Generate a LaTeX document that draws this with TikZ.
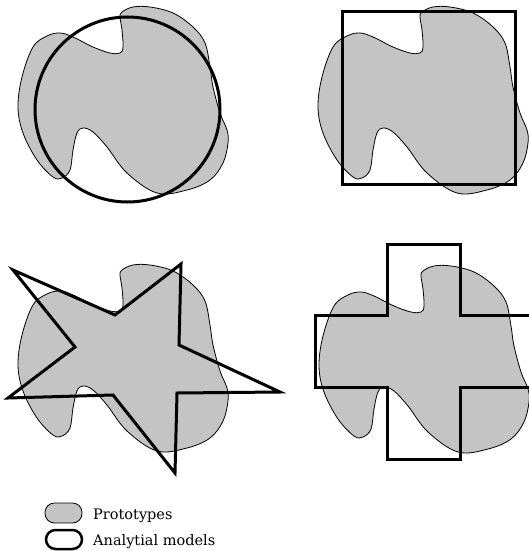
\documentclass[tikz,border=0pt]{standalone}
\usepackage{fontspec}
\setmainfont{DejaVu Serif}
\begin{document}
\begin{tikzpicture}[x=1pt,y=-1pt,
  blobstyle/.style={draw=black,line width=0.8pt,fill=protogray},
  modelstyle/.style={draw=black,line width=3pt,line join=miter},
  labelstyle/.style={anchor=base west,inner sep=0pt,font=\fontsize{14.5}{16}\selectfont}]
\definecolor{protogray}{RGB}{196,196,196}
\useasboundingbox (0,0) rectangle (529,551);
\newcommand\blobpath{plot[smooth cycle,tension=0.6] coordinates {
 (122,12) (133,7) (150,7) (173,13) (193,27) (205,43) (210,67) (213,87)
 (220,113) (227,130) (228,143) (223,163) (210,180) (187,190) (157,193)
 (127,173) (107,147) (93,132) (83,128) (77,133) (73,150) (70,170) (62,178)
 (53,177) (37,160) (23,133) (18,107) (22,77) (33,47) (47,36) (60,33)
 (73,37) (93,47) (110,53) (120,53) (123,47) (122,30) (120,17)}}
% panel 1
\path[blobstyle] \blobpath;
\node[modelstyle,circle,minimum size=185pt,inner sep=0pt] (circ) at (127.5,109.5) {};
% panel 2
\begin{scope}[shift={(300,0)}]
\path[blobstyle] \blobpath;
\end{scope}
\node[modelstyle,rectangle,minimum width=173pt,minimum height=172pt,inner sep=0pt] (sq) at (428.5,98) {};
% panel 3
\begin{scope}[shift={(0,258)}]
\path[blobstyle] \blobpath;
\end{scope}
\coordinate (s1) at (13,270);
\coordinate (s2) at (115,315);
\coordinate (s3) at (181,264);
\coordinate (s4) at (179,345);
\coordinate (s5) at (280,392);
\coordinate (s6) at (177,393);
\coordinate (s7) at (175,473);
\coordinate (s8) at (113,395);
\coordinate (s9) at (8,398);
\coordinate (s10) at (75,347);
\draw[modelstyle] (s1) -- (s2) -- (s3) -- (s4) -- (s5) -- (s6) -- (s7) -- (s8) -- (s9) -- (s10) -- cycle;
% panel 4
\begin{scope}[shift={(301,259)}]
\path[blobstyle] \blobpath;
\end{scope}
\begin{scope}
\clip (0,0) rectangle (529,551);
\coordinate (c1) at (387,244);
\coordinate (c2) at (460,244);
\coordinate (c3) at (460,315);
\coordinate (c4) at (540,315);
\coordinate (c5) at (540,387);
\coordinate (c6) at (460,387);
\coordinate (c7) at (460,459);
\coordinate (c8) at (387,459);
\coordinate (c9) at (387,387);
\coordinate (c10) at (315,387);
\coordinate (c11) at (315,315);
\coordinate (c12) at (387,315);
\draw[modelstyle] (c1) -- (c2) -- (c3) -- (c4) -- (c5) -- (c6) -- (c7) -- (c8) -- (c9) -- (c10) -- (c11) -- (c12) -- cycle;
\end{scope}
% legend
\draw[line width=0.8pt,fill=protogray,rounded corners=9.5pt] (45,503) rectangle (82,523);
\node[labelstyle] (proto) at (93,519) {Prototypes};
\draw[line width=2.5pt,rounded corners=9.5pt] (46,530) rectangle (82,549);
\node[labelstyle] (anal) at (93,545) {Analytial models};
\end{tikzpicture}
\end{document}
